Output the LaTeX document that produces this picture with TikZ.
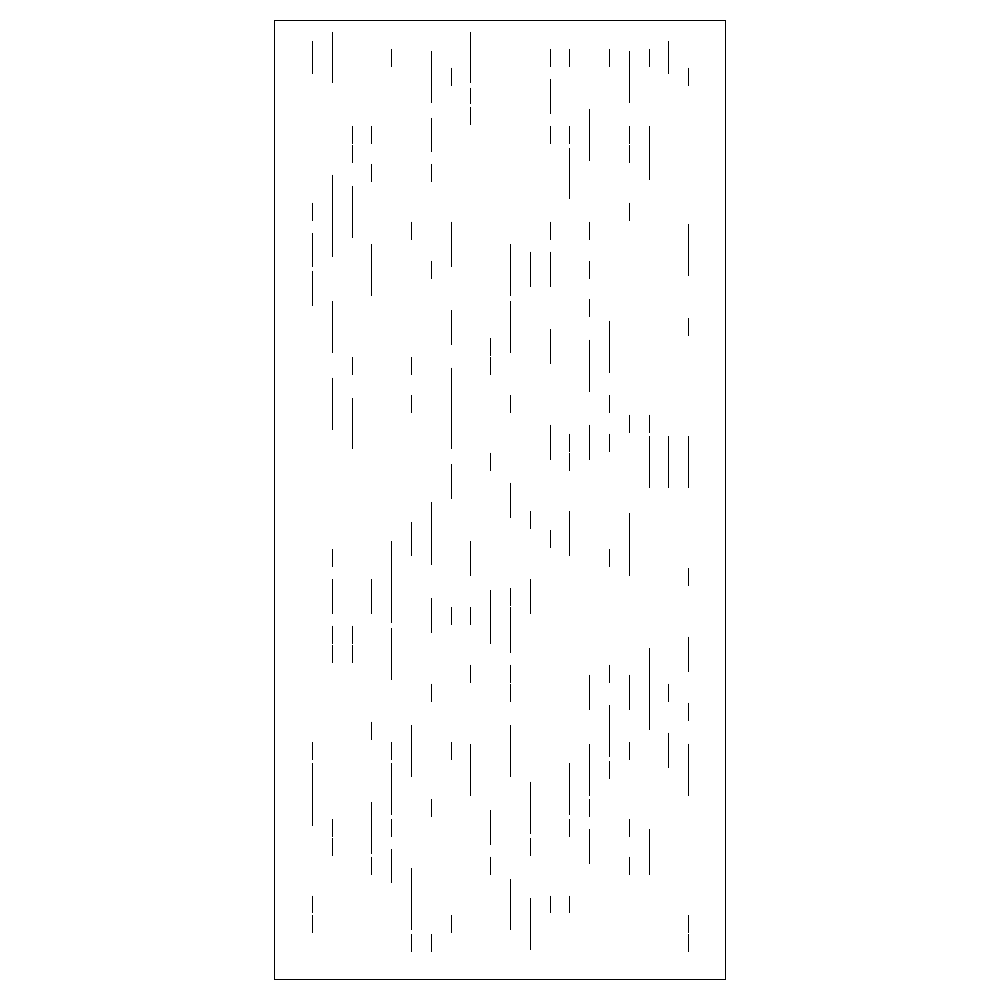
\documentclass[tikz,border=0pt]{standalone}
\begin{document}
\begin{tikzpicture}[x=1pt,y=-1pt,
  seg/.style={line width=1pt,black},
  frame/.style={line width=1pt,black}]
\useasboundingbox (0,0) rectangle (1000,1000);
\draw[frame] (274.5,20.5) rectangle (725.5,979.5);
\foreach \k/\segs in {
 0/{41/74.3, 202.7/220.7, 233/267.3, 270.7/306, 742/760, 763/826, 895.7/912.7, 915/933},
 1/{32/83.3, 174.7/256.7, 301/353, 377.7/430, 549/566.7, 579/613.7, 625.7/643.7, 644.7/662.7, 819/837, 838/856},
 2/{126/144, 145/163, 186/238, 357/375, 398/449, 625.7/643.7, 644.7/662.7},
 3/{126/144, 164/182, 244/295.7, 579/613.7, 721.7/739.7, 802/853.7, 856.7/875},
 4/{49/66.7, 541/622.7, 628/680, 742/760, 763/815, 819/837, 849/883},
 5/{221.7/239.7, 357/375, 395/413, 522.3/556, 725/776.7, 868/930, 934/952},
 6/{51/102.7, 118/151.7, 164/182, 260.7/279, 502/565, 598/632.7, 683.7/701.7, 799/817, 934/952},
 7/{67.7/85.7, 221.7/267.3, 310/345, 367.7/449, 464/498.7, 607/625, 742/760, 915/933},
 8/{32/83.3, 87.7/104.3, 107/124.7, 541/576, 607/625, 664.7/682.7, 744/796},
 9/{338/356, 357/375, 452.7/470.7, 590/643.7, 810/845, 856.7/875},
 10/{244/295.7, 301/353, 395/413, 482.7/517.7, 588/606, 607/652.7, 664.7/682.7, 683.7/701.7, 725/776.7, 879/930},
 11/{251.7/286.7, 511/529, 579/613.7, 781.7/834, 838/856, 898/950},
 12/{49/66.7, 79/114, 126/144, 221.7/239.7, 251.7/286.7, 329/364, 424.7/459.7, 530/547.7, 895.7/912.7},
 13/{49/66.7, 126/144, 148/199, 433.7/451.7, 452.7/470.7, 511/556, 763/815, 819/837, 895.7/912.7},
 14/{109/160.7, 221.7/239.7, 261/279, 299/317, 339.7/391.7, 424.7/459.7, 674.7/709.7, 744/796, 799/817, 829/864},
 15/{49/66.7, 320.7/372.7, 395/413, 433.7/451.7, 549/566.7, 664.7/682.7, 705/756.7, 761/779},
 16/{51/102.7, 126/144, 145/163, 202.7/220.7, 414.7/432.7, 513.3/576, 674.7/709.7, 742/760, 819/837, 856.7/875},
 17/{49/66.7, 126/179.7, 414.7/432.7, 436/487.7, 648/729.7, 829/875},
 18/{41/74.3, 436/487.7, 683.7/701.7, 732.7/768},
 19/{67.7/85.7, 224/275.7, 318/336, 436/487.7, 568/586, 636.7/671.7, 702.7/720.7, 743.7/796, 915/933, 934/952}}
{
  \pgfmathsetmacro{\xx}{312.5+19.8*\k}
  \foreach \ya/\yb in \segs {
    \draw[seg] (\xx,\ya) -- (\xx,\yb);
  }
}
\end{tikzpicture}
\end{document}
